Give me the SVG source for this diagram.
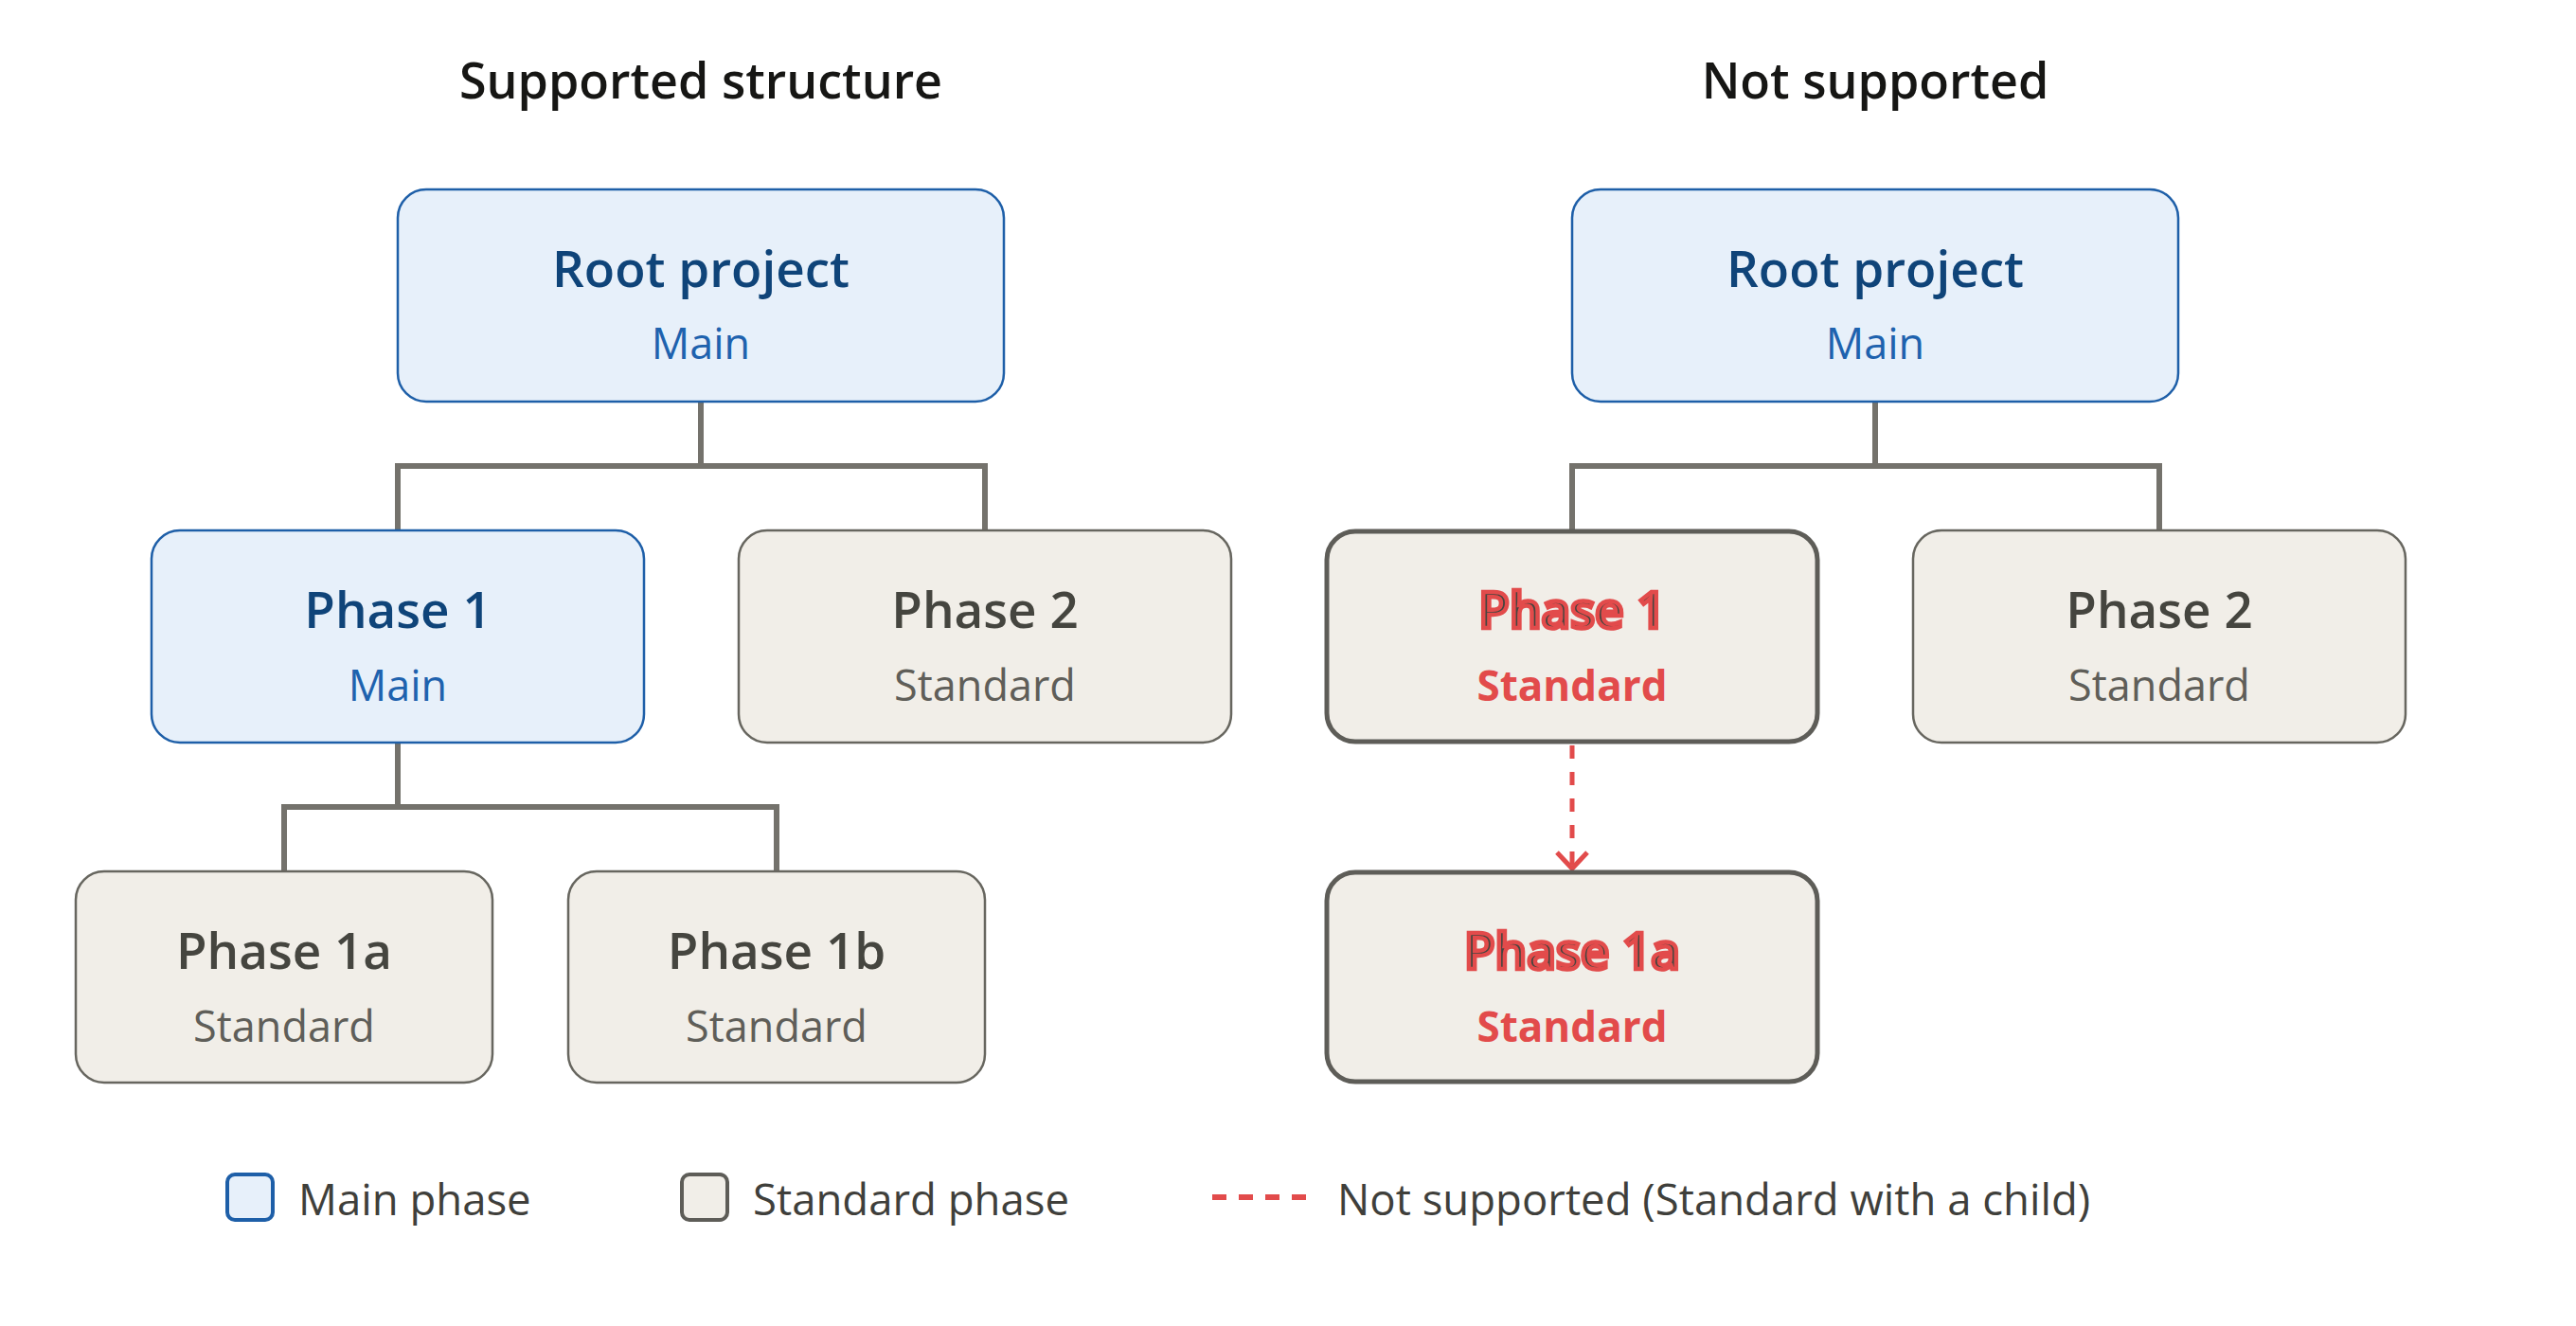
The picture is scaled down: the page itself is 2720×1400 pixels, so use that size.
<svg xmlns="http://www.w3.org/2000/svg" width="2720" height="1400" viewBox="0 0 2720 1400">
<style>
text{font-family:"Open Sans","Noto Sans","Liberation Sans",sans-serif;text-anchor:middle}
.h{font-size:52px;font-weight:600;fill:#161614}
.main rect{fill:#E7F0FA;stroke:#1E5FA8;stroke-width:2.5}
.main .t{font-size:53px;font-weight:600;fill:#0F4479}
.main .s{font-size:45px;fill:#1E62AE}
.std rect{fill:#F1EEE8;stroke:#67665F;stroke-width:2.5}
.std .t{font-size:53px;font-weight:600;fill:#45453F}
.std .s{font-size:45px;fill:#5F5E59}
.bad rect{stroke-width:5;stroke:#5E5D58}
.bad .t{fill:#45453F;stroke:#E24B4B;stroke-width:4.5}
.bad .s{font-size:44px;font-weight:700;fill:#E24B4B}
.conn path{fill:none;stroke:#74726C;stroke-width:6}
.conn .dash{stroke:#E24B4B;stroke-width:5;stroke-dasharray:14 14}
.lg{font-size:45.5px;fill:#3F3F3B;text-anchor:start}
</style>
<rect width="2720" height="1400" fill="#ffffff"/>
<text class="h" x="740" y="104">Supported structure</text>
<text class="h" x="1980" y="104">Not supported</text>
<g class="conn" id="connectors">
<path d="M740 424 V492 M420 492 H1040 M420 489 V560 M1040 489 V560"/>
<path d="M420 784 V852 M300 852 H820 M300 849 V920 M820 849 V920"/>
<path d="M1980 424 V492 M1660 492 H2280 M1660 489 V560 M2280 489 V560"/>
<path class="dash" d="M1660 787 V916"/>
<path d="M1644 900 L1660 917 L1676 900" style="stroke:#E24B4B;stroke-width:5"/>
</g>
<g id="l-root" class="main"><rect x="420" y="200" width="640" height="224" rx="30"/><text class="t" x="740" y="303">Root project</text><text class="s" x="740" y="379">Main</text></g>
<g id="l-phase1" class="main"><rect x="160" y="560" width="520" height="224" rx="30"/><text class="t" x="420" y="663">Phase 1</text><text class="s" x="420" y="740">Main</text></g>
<g id="l-phase2" class="std"><rect x="780" y="560" width="520" height="224" rx="30"/><text class="t" x="1040" y="663">Phase 2</text><text class="s" x="1040" y="740">Standard</text></g>
<g id="l-phase1a" class="std"><rect x="80" y="920" width="440" height="223" rx="30"/><text class="t" x="300" y="1023">Phase 1a</text><text class="s" x="300" y="1100">Standard</text></g>
<g id="l-phase1b" class="std"><rect x="600" y="920" width="440" height="223" rx="30"/><text class="t" x="820" y="1023">Phase 1b</text><text class="s" x="820" y="1100">Standard</text></g>
<g id="r-root" class="main"><rect x="1660" y="200" width="640" height="224" rx="30"/><text class="t" x="1980" y="303">Root project</text><text class="s" x="1980" y="379">Main</text></g>
<g id="r-phase1" class="std bad"><rect x="1401" y="561" width="518" height="222" rx="30"/><text class="t" x="1660" y="663">Phase 1</text><text class="s" x="1660" y="740">Standard</text></g>
<g id="r-phase2" class="std"><rect x="2020" y="560" width="520" height="224" rx="30"/><text class="t" x="2280" y="663">Phase 2</text><text class="s" x="2280" y="740">Standard</text></g>
<g id="r-phase1a" class="std bad"><rect x="1401" y="921" width="518" height="221" rx="30"/><text class="t" x="1660" y="1023">Phase 1a</text><text class="s" x="1660" y="1100">Standard</text></g>
<g id="legend">
<rect x="240" y="1240" width="48" height="48" rx="8" fill="#E7F0FA" stroke="#1E5FA8" stroke-width="4"/>
<text class="lg" x="315" y="1283">Main phase</text>
<rect x="720" y="1240" width="48" height="48" rx="8" fill="#F1EEE8" stroke="#5E5D58" stroke-width="4"/>
<text class="lg" x="795" y="1283">Standard phase</text>
<path d="M1280 1264 H1380" stroke="#E24B4B" stroke-width="6" stroke-dasharray="15 13"/>
<text class="lg" x="1412" y="1283">Not supported (Standard with a child)</text>
</g>
</svg>
